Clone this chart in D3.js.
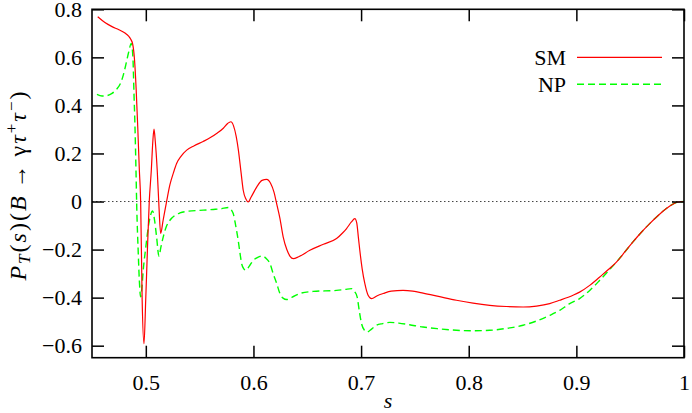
<!DOCTYPE html>
<html>
<head>
<meta charset="utf-8">
<script src="https://cdn.jsdelivr.net/npm/d3@7"></script>
<style>
  html, body { margin: 0; padding: 0; background: #fff; }
  svg { display: block; }
  text { font-family: "Liberation Serif", "DejaVu Serif", serif; fill: #000; }
</style>
</head>
<body>
<svg id="chart" width="692" height="413"></svg>
<script>
// ---- data ----
const xTicks = [0.5, 0.6, 0.7, 0.8, 0.9, 1];
const yTicks = [-0.6, -0.4, -0.2, 0, 0.2, 0.4, 0.6, 0.8];
const seriesNames = ["SM", "NP"];

const smS = [0.4553,0.4620,0.4686,0.4750,0.4810,0.4840,0.4860,0.4878,0.4895,0.4910,0.4925,0.4940,0.4952,0.4966,0.4983,0.4999,0.5015,0.5032,0.5051,0.5065,0.5076,0.5088,0.5106,0.5122,0.5138,0.5160,0.5193,0.5224,0.5257,0.5286,0.5330,0.5380,0.5450,0.5533,0.5600,0.5658,0.5720,0.5760,0.5790,0.5815,0.5840,0.5860,0.5885,0.5905,0.5930,0.5951,0.5980,0.6030,0.6080,0.6122,0.6160,0.6190,0.6215,0.6246,0.6276,0.6310,0.6340,0.6370,0.6420,0.6524,0.6650,0.6772,0.6830,0.6865,0.6910,0.6942,0.6960,0.6975,0.6988,0.7010,0.7035,0.7065,0.7097,0.7150,0.7205,0.7280,0.7390,0.7480,0.7576,0.7730,0.7886,0.8040,0.8195,0.8350,0.8505,0.8630,0.8752,0.8845,0.8969,0.9030,0.9124,0.9217,0.9300,0.9372,0.9450,0.9526,0.9600,0.9681,0.9760,0.9836,0.9900,0.9944,1.0];
const smP = [0.769,0.745,0.728,0.715,0.700,0.688,0.675,0.655,0.59,0.47,0.31,0.13,0.0,-0.41,-0.592,-0.41,-0.2,0.0,0.13,0.25,0.301,0.25,0.13,-0.02,-0.133,-0.08,0.0,0.07,0.12,0.158,0.19,0.214,0.232,0.250,0.266,0.283,0.305,0.325,0.332,0.315,0.27,0.214,0.12,0.047,0.01,-0.002,0.02,0.06,0.088,0.092,0.075,0.04,-0.008,-0.07,-0.147,-0.2,-0.228,-0.238,-0.23,-0.203,-0.178,-0.154,-0.13,-0.1125,-0.085,-0.071,-0.09,-0.15,-0.203,-0.28,-0.342,-0.39,-0.404,-0.392,-0.383,-0.373,-0.370,-0.373,-0.381,-0.396,-0.411,-0.423,-0.432,-0.437,-0.439,-0.435,-0.425,-0.411,-0.39,-0.377,-0.349,-0.314,-0.282,-0.252,-0.21,-0.168,-0.13,-0.092,-0.058,-0.029,-0.01,-0.002,0.0];

const npS = [0.4546,0.4593,0.4640,0.4686,0.4730,0.4763,0.4790,0.4810,0.4840,0.4865,0.4880,0.4890,0.4900,0.4909,0.4915,0.4930,0.4940,0.4952,0.4965,0.4976,0.5000,0.5023,0.5045,0.5063,0.5082,0.5100,0.5122,0.5140,0.5162,0.5190,0.5224,0.5270,0.5317,0.5400,0.5500,0.5626,0.5700,0.5766,0.5795,0.5812,0.5835,0.5858,0.5875,0.5890,0.5910,0.5930,0.5960,0.5998,0.6040,0.6085,0.6120,0.6153,0.6183,0.6215,0.6246,0.6275,0.6308,0.6360,0.6431,0.6555,0.6772,0.6850,0.6911,0.6940,0.6963,0.6985,0.7004,0.7030,0.7056,0.7100,0.7143,0.7200,0.7267,0.7350,0.7450,0.7576,0.7730,0.7886,0.8040,0.8195,0.8350,0.8505,0.8630,0.8752,0.8845,0.8938,0.9030,0.9124,0.9217,0.9300,0.9372,0.9450,0.9526,0.9600,0.9681,0.9760,0.9836,0.9900,0.9944,1.0];
const npP = [0.446,0.439,0.441,0.450,0.468,0.490,0.525,0.561,0.62,0.658,0.60,0.45,0.30,0.123,-0.008,-0.217,-0.33,-0.397,-0.35,-0.286,-0.19,-0.106,-0.055,-0.039,-0.08,-0.147,-0.228,-0.19,-0.147,-0.105,-0.078,-0.058,-0.0475,-0.040,-0.037,-0.033,-0.030,-0.025,-0.035,-0.05,-0.1,-0.161,-0.215,-0.258,-0.28,-0.286,-0.27,-0.245,-0.232,-0.227,-0.238,-0.258,-0.300,-0.34,-0.383,-0.402,-0.408,-0.398,-0.383,-0.374,-0.370,-0.366,-0.3625,-0.375,-0.397,-0.46,-0.508,-0.535,-0.543,-0.53,-0.515,-0.508,-0.503,-0.506,-0.513,-0.5225,-0.530,-0.536,-0.538,-0.536,-0.528,-0.515,-0.497,-0.474,-0.453,-0.425,-0.404,-0.37,-0.328,-0.288,-0.252,-0.21,-0.168,-0.13,-0.092,-0.058,-0.029,-0.01,-0.002,0.0];

// ---- drawing ----
const svg = d3.select("#chart");
const L = 92, R = 684, T = 9.3, B = 357.7;
const x = d3.scaleLinear().domain([0.45, 1]).range([L, R]);
const y = d3.scaleLinear().domain([-0.65, 0.8]).range([B, T]);
const tickLen = 12;
const fs = 22;

// zero line
svg.append("line")
  .attr("x1", x(0.45)).attr("x2", x(1))
  .attr("y1", y(0)).attr("y2", y(0))
  .attr("stroke", "#444").attr("stroke-width", 1)
  .attr("stroke-dasharray", "1.5,2.5");

// curves
const line = d3.line().x(d => x(d[0])).y(d => y(d[1])).curve(d3.curveMonotoneX);
const smData = smS.map((s, i) => [s, smP[i]]);
const npData = npS.map((s, i) => [s, npP[i]]);

svg.append("path").datum(npData)
  .attr("d", line).attr("fill", "none")
  .attr("stroke", "#00ff00").attr("stroke-width", 1.4)
  .attr("stroke-dasharray", "7,4");
svg.append("path").datum(smData)
  .attr("d", line).attr("fill", "none")
  .attr("stroke", "#ff0000").attr("stroke-width", 1.2);

// axes (inward ticks on all four sides)
const fmt = d => d3.format("~g")(d);
const gB = svg.append("g").attr("transform", `translate(0,${B})`)
  .call(d3.axisBottom(x).tickValues(xTicks).tickSize(-tickLen).tickPadding(17).tickFormat(fmt));
const gT = svg.append("g").attr("transform", `translate(0,${T})`)
  .call(d3.axisTop(x).tickValues(xTicks).tickSize(-tickLen).tickFormat(""));
const gL = svg.append("g").attr("transform", `translate(${L},0)`)
  .call(d3.axisLeft(y).tickValues(yTicks).tickSize(-tickLen).tickPadding(10).tickFormat(fmt));
const gR = svg.append("g").attr("transform", `translate(${R},0)`)
  .call(d3.axisRight(y).tickValues(yTicks).tickSize(-tickLen).tickFormat(""));

[gB, gT, gL, gR].forEach(g => {
  g.select(".domain").remove();
  g.selectAll(".tick line").attr("stroke", "#000").attr("stroke-width", 1.5);
  g.selectAll(".tick text").attr("font-size", fs).attr("font-family", "Liberation Serif, serif");
});

// frame
svg.append("rect")
  .attr("x", L).attr("y", T).attr("width", R - L).attr("height", B - T)
  .attr("fill", "none").attr("stroke", "#000").attr("stroke-width", 1.6);

// axis titles
svg.append("text")
  .attr("x", (L + R) / 2).attr("y", 408)
  .attr("text-anchor", "middle").attr("font-size", fs).attr("font-style", "italic")
  .text("s");

const yl = svg.append("text")
  .attr("transform", "translate(26,185) rotate(-90)")
  .attr("text-anchor", "middle").attr("font-size", 24)
  .attr("letter-spacing", 2);
yl.append("tspan").attr("font-style", "italic").text("P");
yl.append("tspan").attr("font-style", "italic").attr("font-size", 17).attr("dy", 4).text("T");
yl.append("tspan").attr("dy", -4).text("(");
yl.append("tspan").attr("font-style", "italic").text("s");
yl.append("tspan").text(")(");
yl.append("tspan").attr("font-style", "italic").text("B");
yl.append("tspan").attr("dx", 6).text("→");
yl.append("tspan").attr("dx", 6).text("γ");
yl.append("tspan").attr("font-style", "italic").text("τ");
yl.append("tspan").attr("font-size", 17).attr("dy", -9).text("+");
yl.append("tspan").attr("font-style", "italic").attr("dy", 9).text("τ");
yl.append("tspan").attr("font-size", 17).attr("dy", -9).text("−");
yl.append("tspan").attr("dy", 9).text(")");

// legend
const legY = [57.3, 84.3];
const legStroke = [["#ff0000", 1.2, null], ["#00ff00", 1.4, "7,4"]];
seriesNames.forEach((name, i) => {
  svg.append("text")
    .attr("x", 566).attr("y", legY[i]).attr("dy", "0.35em")
    .attr("text-anchor", "end").attr("font-size", fs).text(name);
  const ln = svg.append("line")
    .attr("x1", 577).attr("x2", 662).attr("y1", legY[i]).attr("y2", legY[i])
    .attr("stroke", legStroke[i][0]).attr("stroke-width", legStroke[i][1]);
  if (legStroke[i][2]) ln.attr("stroke-dasharray", legStroke[i][2]);
});
</script>
</body>
</html>
